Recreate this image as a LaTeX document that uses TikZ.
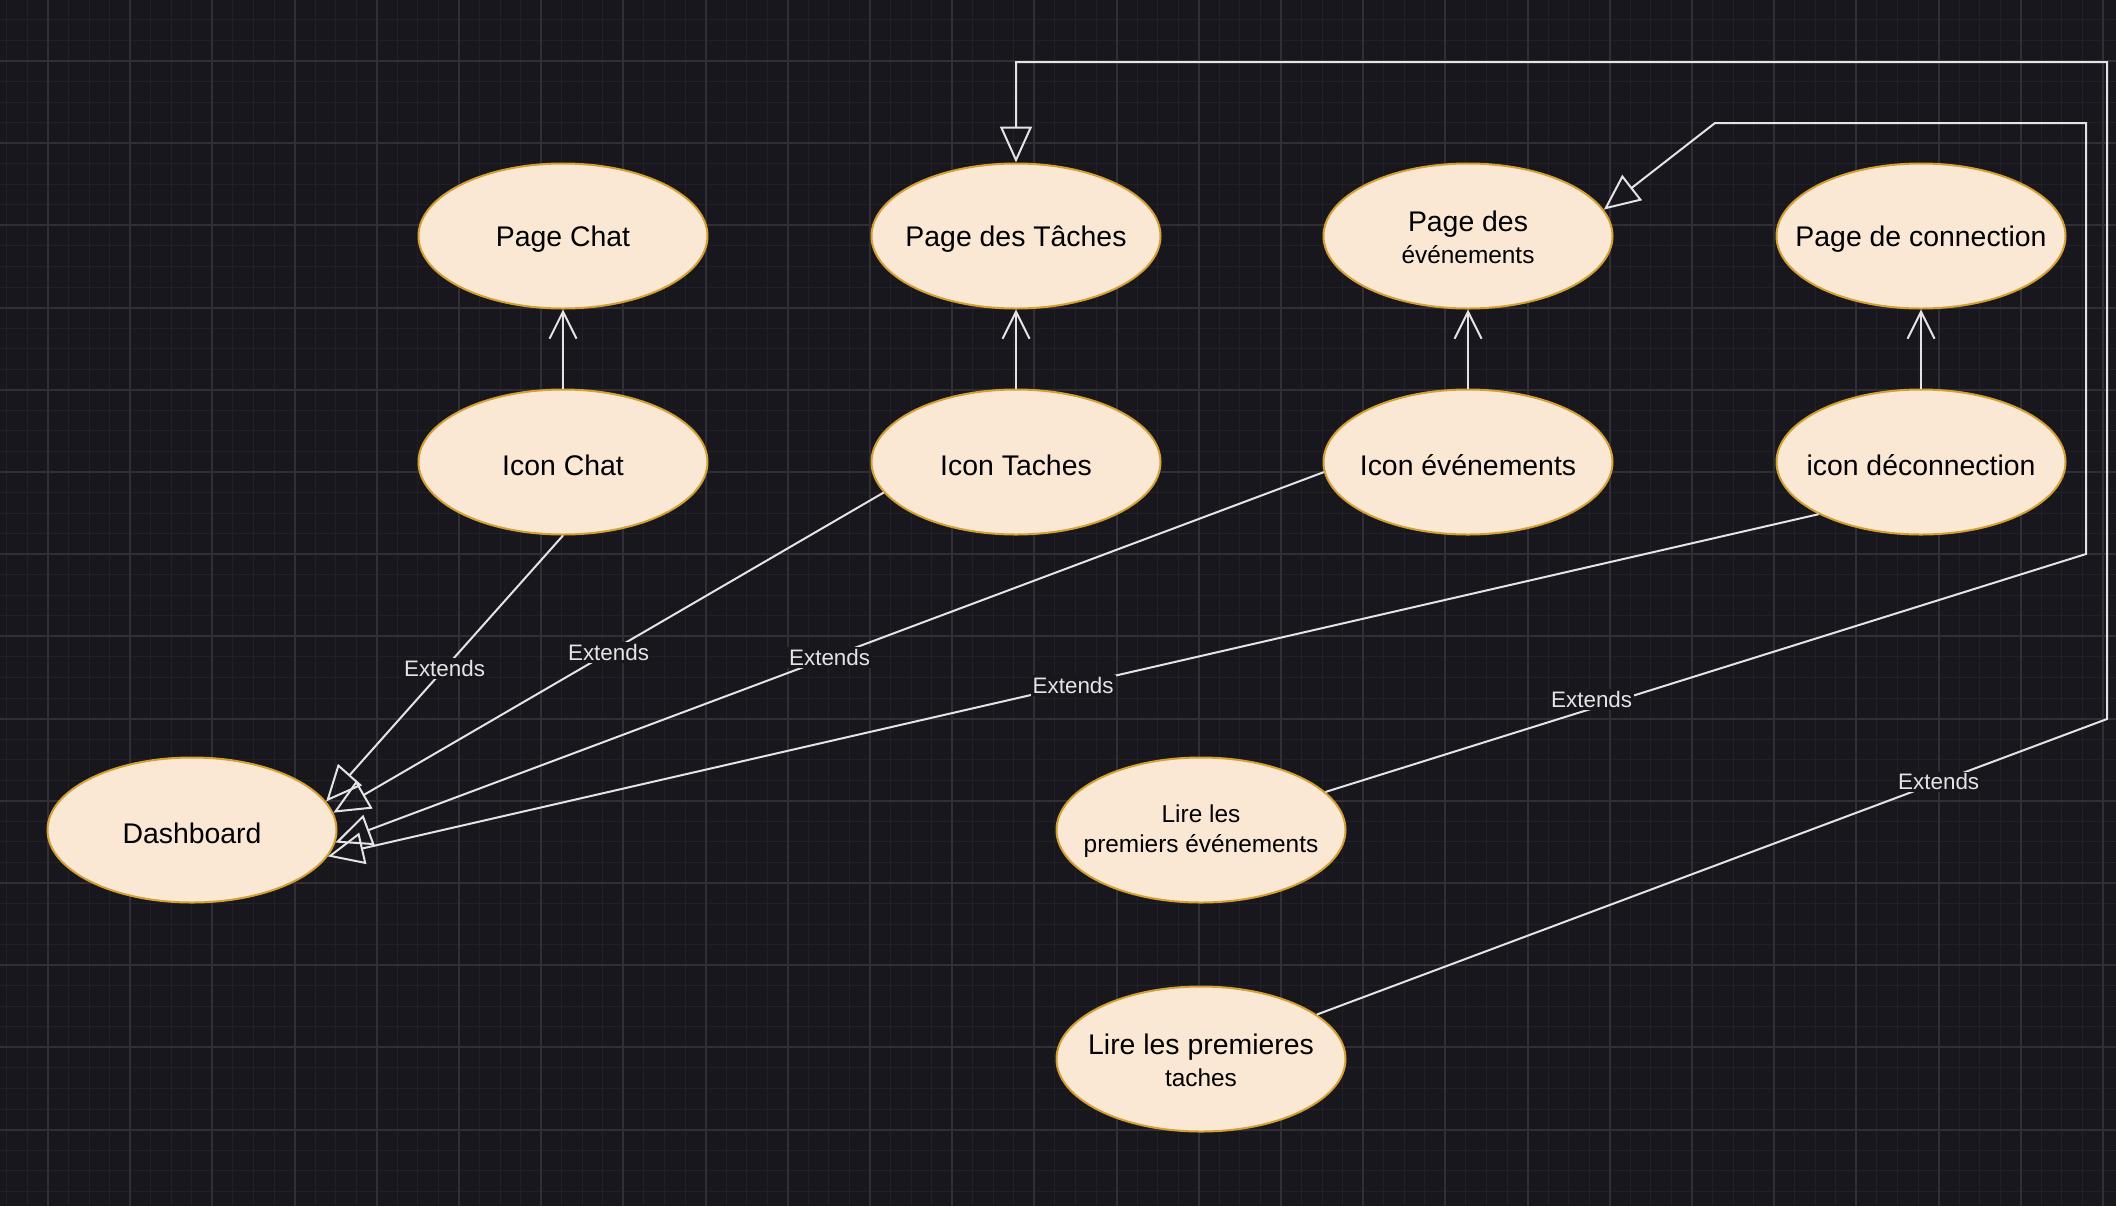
\documentclass[tikz,border=0pt]{standalone}
\usepackage{fontspec}
\setmainfont{Liberation Sans}
\usetikzlibrary{arrows.meta,shapes.geometric}
\definecolor{bgc}{HTML}{18171D}
\definecolor{gridminor}{HTML}{222127}
\definecolor{gridmajor}{HTML}{302F35}
\definecolor{ucfill}{HTML}{FAE8D4}
\definecolor{ucstroke}{HTML}{D4A033}
\definecolor{linec}{HTML}{E4E4E4}
\begin{document}
\begin{tikzpicture}[x=0.5pt,y=-0.5pt,
  uc/.style={ellipse, draw=ucstroke, fill=ucfill, line width=1pt,
    minimum width=144.5pt, minimum height=72.5pt, inner sep=0pt},
  uct/.style={align=center, text=black, inner sep=0pt, yshift=-1.5pt,
    font=\fontsize{14.2}{16}\selectfont},
  ext/.style={draw=linec, line width=1pt, -{Triangle[open, length=18pt, width=16pt]}},
  openarr/.style={draw=linec, line width=1pt, -{Straight Barb[length=13.5pt, width=13.5pt]}},
  lbl/.style={fill=bgc, text=linec, inner sep=1pt, font=\fontsize{11.2}{13}\selectfont}]
\useasboundingbox (0,0) rectangle (2116,1206);
\fill[bgc] (0,0) rectangle (2116,1206);
% grid
\foreach \i in {-2,...,100} {\draw[gridminor, line width=0.5pt] ({48+\i*20.55},0) -- ({48+\i*20.55},1206);}
\foreach \j in {-2,...,55} {\draw[gridminor, line width=0.5pt] (0,{61+\j*20.55}) -- (2116,{61+\j*20.55});}
\foreach \i in {0,...,25} {\draw[gridmajor, line width=1pt] ({48+\i*82.2},0) -- ({48+\i*82.2},1206);}
\foreach \j in {0,...,13} {\draw[gridmajor, line width=1pt] (0,{61+\j*82.2}) -- (2116,{61+\j*82.2});}

% nodes
\node[uc, label={[uct]center:Page Chat}] (pc) at (563,236) {};
\node[uc, label={[uct]center:Page des Tâches}] (pt) at (1016,236) {};
\node[uc, label={[uct, yshift=1pt]center:Page des\\{\fontsize{12.2}{15}\selectfont événements}}] (pev) at (1468,236) {};
\node[uc, label={[uct]center:Page de connection}] (pcn) at (1921,236) {};
\node[uc, label={[uct]center:Icon Chat}] (ic) at (563,462) {};
\node[uc, label={[uct]center:Icon Taches}] (it) at (1016,462) {};
\node[uc, label={[uct]center:Icon événements}] (iev) at (1468,462) {};
\node[uc, label={[uct]center:icon déconnection}] (idc) at (1921,462) {};
\node[uc, label={[uct]center:Dashboard}] (dash) at (192,830) {};
\node[uc, label={[uct, yshift=1pt, font=\fontsize{12.2}{15}\selectfont]center:Lire les\\premiers événements}] (l1) at (1201,830) {};
\node[uc, label={[uct, yshift=1pt]center:Lire les premieres\\{\fontsize{12.2}{15}\selectfont taches}}] (lt) at (1201,1059) {};

% icon -> page
\draw[openarr] (ic) -- (pc);
\draw[openarr] (it) -- (pt);
\draw[openarr] (iev) -- (pev);
\draw[openarr] (idc) -- (pcn);

% extends to dashboard
\draw[ext] (ic.south) -- node[lbl]{Extends} (dash.12);
\draw[ext] (it.193) -- node[lbl]{Extends} (dash.7);
\draw[ext] (iev.184) -- node[lbl]{Extends} (dash.-5);
\draw[ext] (idc.207) -- node[lbl]{Extends} (dash.-11);

% Lire les premiers événements -> Page des événements
\coordinate (b1) at (2086,554);
\coordinate (b2) at (2086,123);
\coordinate (b3) at (1715,123);
\draw[ext] (l1.17) -- node[lbl,pos=0.35,yshift=4.5pt]{Extends} (b1) -- (b2) -- (b3) -- (pev.11);

% Lire les premieres taches -> Page des Tâches
\coordinate (c1) at (2107,719);
\coordinate (c2) at (2107,62);
\coordinate (c3) at (pt.north |- c2);
\draw[ext] (lt.21) -- node[lbl,pos=0.787]{Extends} (c1) -- (c2) -- (c3) -- (pt.north);
\end{tikzpicture}
\end{document}
